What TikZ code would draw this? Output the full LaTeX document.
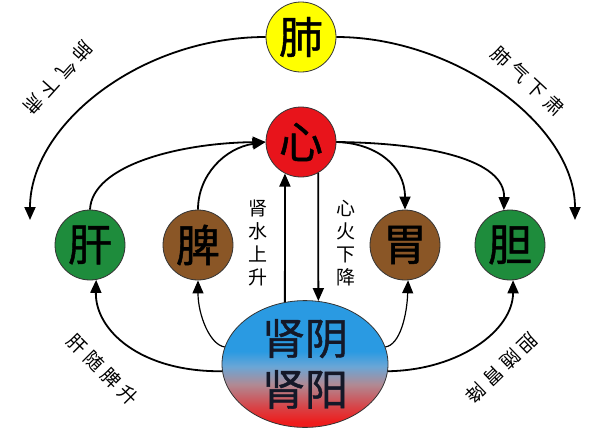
\documentclass[tikz,border=0pt]{standalone}
\usepackage{fontspec}
\setmainfont{Noto Sans CJK SC}
\newfontfamily\cjkb[FakeBold=1]{Noto Sans CJK SC}
\usetikzlibrary{arrows.meta,shapes.geometric}
\definecolor{cyel}{HTML}{FFFF00}
\definecolor{cred}{HTML}{E8141B}
\definecolor{cgreen}{HTML}{1E8C3C}
\definecolor{cbrown}{HTML}{8A5626}
\definecolor{cblue}{HTML}{2A9AE2}
\definecolor{clblue}{HTML}{6AA6D6}
\definecolor{cmauve}{HTML}{B08A94}
\definecolor{cbred}{HTML}{EE1C1C}
\definecolor{ctxt}{HTML}{141828}
\pgfdeclareverticalshading{shenshade}{100bp}{color(0bp)=(cbred); color(25bp)=(cbred); color(27bp)=(cbred); color(33bp)=(cbred!65!cmauve); color(42bp)=(cmauve); color(49bp)=(clblue); color(55bp)=(cblue); color(100bp)=(cblue)}
\newcommand{\csp}{\hspace{5pt}}
\begin{document}
\begin{tikzpicture}[x=1pt,y=-1pt,
  organ/.style={circle,draw=black!80,line width=0.8pt,minimum size=70pt,inner sep=0pt,font=\cjkb\fontsize{44}{44}\selectfont},
  conn/.style={line width=1.8pt,-{Triangle[length=13pt,width=11pt]}},
  conntwo/.style={line width=1.2pt,-{Triangle[length=13pt,width=11pt]}},
  lbl/.style={font=\fontsize{19}{19}\selectfont,inner sep=0pt},
  vlbl/.style={font=\fontsize{19}{23}\selectfont,inner sep=0pt,align=center}]
\useasboundingbox (0,0) rectangle (616,434);
\fill[white] (0,0) rectangle (616,434);
\node[organ,fill=cyel] (fei) at (301,37) {肺};
\node[organ,fill=cred] (xin) at (301,142) {心};
\node[organ,fill=cgreen] (gan) at (90,245) {肝};
\node[organ,fill=cbrown] (pi) at (198,245) {脾};
\node[organ,fill=cbrown] (wei) at (405,245) {胃};
\node[organ,fill=cgreen] (dan) at (510,245) {胆};
\node[ellipse,draw=black!80,line width=0.8pt,shade,shading=shenshade,minimum width=166pt,minimum height=124pt,inner sep=0pt,align=center,font=\cjkb\fontsize{43}{51}\selectfont,text=ctxt] (shen) at (305,364) {肾阴\\肾阳};
\coordinate (lend) at (30,220);
\coordinate (rend) at (575,220);
\draw[conn] (fei.west) .. controls (140,37) and (30,125) .. (lend);
\draw[conn] (fei.east) .. controls (455,37) and (575,125) .. (rend);
\draw[conn] (gan.north) .. controls (92,165) and (180,143) .. (xin.west);
\draw[conn] (pi.north) .. controls (198,175) and (225,148) .. (xin.west);
\draw[conn] (xin.east) .. controls (375,143) and (405,165) .. (wei.north);
\draw[conn] (xin.east) .. controls (430,143) and (505,160) .. (dan.100);
\draw[conn] (shen.108) -- (xin.243);
\draw[conn] (xin.299) -- (shen.78);
\draw[conn] (shen.185) .. controls (140,372) and (95,330) .. (gan.280);
\draw[conntwo] (shen.168) .. controls (210,345) and (198,315) .. (pi.south);
\draw[conntwo] (shen.12) .. controls (400,345) and (407,315) .. (wei.275);
\draw[conn] (shen.355) .. controls (460,370) and (513,330) .. (dan.275);
\node[lbl,rotate=-132] (l1) at (58,78) {肺\csp 气\csp 下\csp 肃};
\node[lbl,rotate=-43] (l2) at (528,81) {肺\csp 气\csp 下\csp 肃};
\node[lbl,rotate=-45] (l3) at (103,370) {肝\csp 随\csp 脾\csp 升};
\node[lbl,rotate=-136] (l4) at (502,368) {胆\csp 随\csp 胃\csp 降};
\node[vlbl] (l5) at (258,243) {肾\\水\\上\\升};
\node[vlbl] (l6) at (346,243) {心\\火\\下\\降};
\end{tikzpicture}
\end{document}
